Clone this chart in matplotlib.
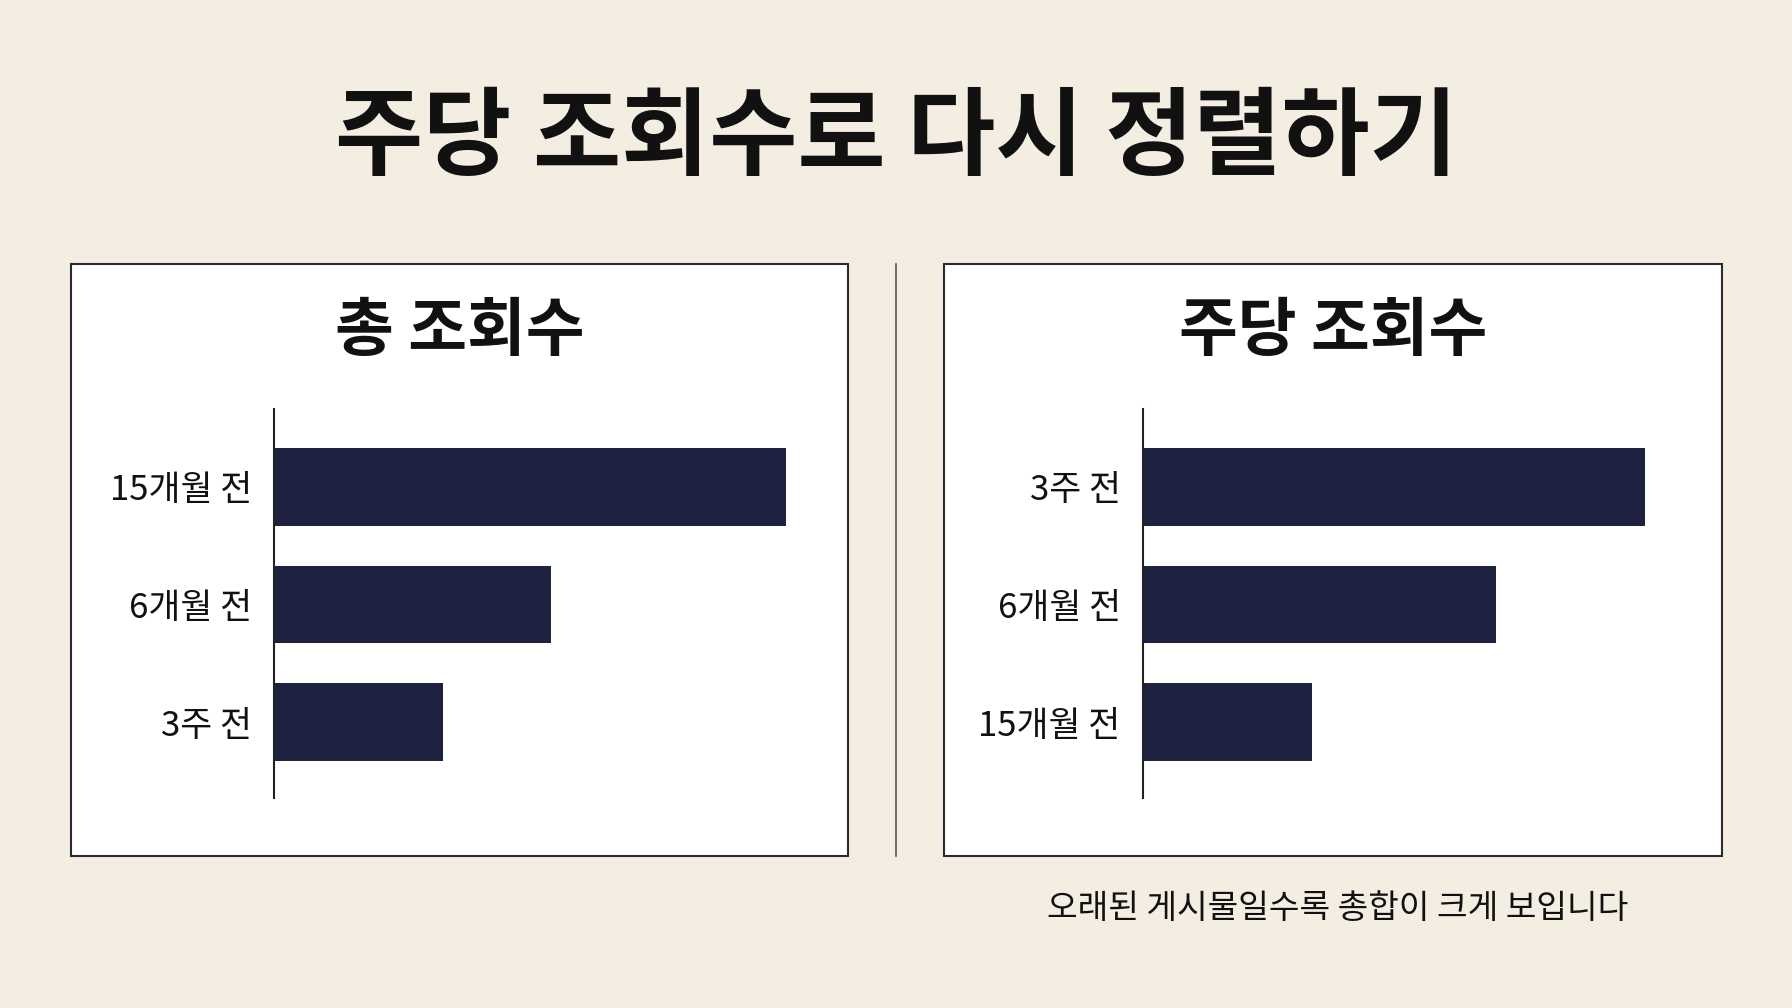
import matplotlib
matplotlib.use("Agg")
import matplotlib.pyplot as plt
from matplotlib.patches import Rectangle
from matplotlib.lines import Line2D

plt.rcParams['font.family'] = ['Noto Sans CJK KR', 'DejaVu Sans']

title = "주당 조회수로 다시 정렬하기"
footnote = "오래된 게시물일수록 총합이 크게 보입니다"
left_title = "총 조회수"
left_cats = ["15개월 전", "6개월 전", "3주 전"]
left_vals = [100, 54, 33]
right_title = "주당 조회수"
right_cats = ["3주 전", "6개월 전", "15개월 전"]
right_vals = [98, 69, 33]

bg = "#F3EDE2"
bar_c = "#1E2140"
W, H = 1568, 882

fig = plt.figure(figsize=(17.92, 10.08), dpi=100, facecolor=bg)

fig.text(0.5, 1 - 122 / H, title, ha='center', va='center', fontsize=69, fontweight='bold', color='#111111')

def panel(x0, x1, ax_left, ttl, cats, vals):
    fig.patches.append(Rectangle((x0 / W, 1 - 749 / H), (x1 - x0) / W, (749 - 231) / H,
                                 transform=fig.transFigure, facecolor='white',
                                 edgecolor='#2a2a35', lw=1.5, zorder=-1))
    fig.text((x0 + x1) / 2 / W, 1 - 290 / H, ttl, ha='center', va='center',
             fontsize=46, fontweight='bold', color='#111111')
    ax = fig.add_axes([ax_left / W, 1 - 698 / H, 480 / W, 340 / H])
    ax.set_zorder(2)
    ax.set_facecolor('none')
    ax.barh(range(len(vals)), vals, height=0.66, color=bar_c)
    ax.set_ylim(2.64, -0.66)
    ax.set_xlim(0, 107.1)
    ax.set_yticks(range(len(cats)))
    ax.set_yticklabels(cats, fontsize=25, color='#111111')
    ax.tick_params(axis='y', length=0, pad=16)
    ax.set_xticks([])
    for s in ['top', 'right', 'bottom']:
        ax.spines[s].set_visible(False)
    ax.spines['left'].set_color('#222222')
    ax.spines['left'].set_linewidth(1.5)

panel(62, 742, 240, left_title, left_cats, left_vals)
panel(826, 1507, 1000, right_title, right_cats, right_vals)

fig.lines.append(Line2D([784 / W, 784 / W], [1 - 231 / H, 1 - 749 / H], transform=fig.transFigure,
                        color='#555555', lw=1.2))

fig.text(1425 / W, 1 - 795 / H, footnote, ha='right', va='center', fontsize=24, color='#111111')

fig.savefig("out.png", dpi=100, facecolor=bg)
